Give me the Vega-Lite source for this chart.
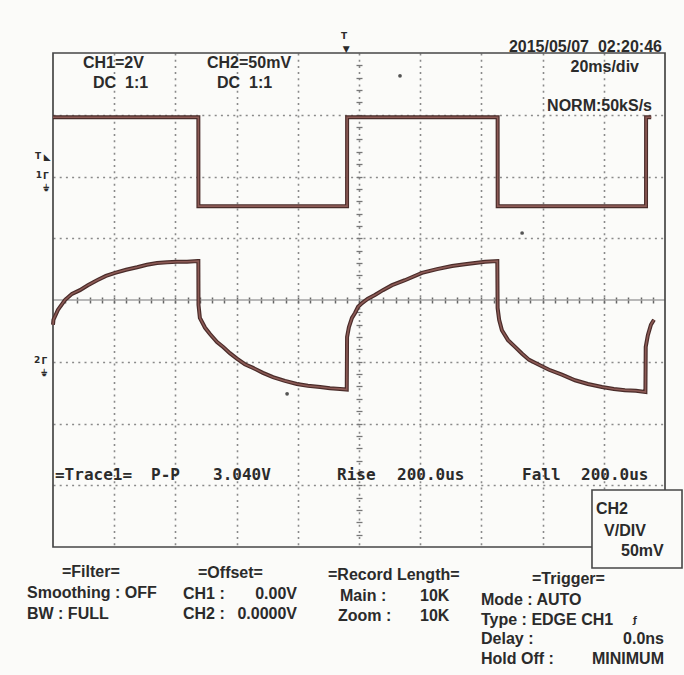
{
  "$schema": "https://vega.github.io/schema/vega-lite/v6.json",
  "width": 612,
  "height": 494,
  "autosize": "none",
  "padding": {"left": 53, "top": 53, "right": 19, "bottom": 128},
  "background": "#fbfbf9",
  "config": {"view": {"stroke": null}},
  "datasets": {
    "ch1": [
      {"t": 0, "v": 2.96}, {"t": 47.5, "v": 2.96}, {"t": 47.52, "v": 1.52}, {"t": 96.1, "v": 1.52},
      {"t": 96.12, "v": 2.96}, {"t": 145.3, "v": 2.96}, {"t": 145.32, "v": 1.52}, {"t": 193.8, "v": 1.52},
      {"t": 193.82, "v": 2.96}, {"t": 195.5, "v": 2.96}
    ],
    "ch2": [
      {"t": 0.0, "v": -0.40}, {"t": 0.15, "v": -0.32}, {"t": 1.6, "v": -0.16}, {"t": 3.9, "v": 0.0},
      {"t": 6.2, "v": 0.10}, {"t": 8.8, "v": 0.16}, {"t": 11.4, "v": 0.24}, {"t": 14.4, "v": 0.32},
      {"t": 17.3, "v": 0.39}, {"t": 20.3, "v": 0.44}, {"t": 23.9, "v": 0.49}, {"t": 27.5, "v": 0.53},
      {"t": 30.7, "v": 0.57}, {"t": 34.0, "v": 0.60}, {"t": 37.3, "v": 0.61}, {"t": 40.5, "v": 0.62},
      {"t": 43.8, "v": 0.62}, {"t": 47.3, "v": 0.63}, {"t": 47.5, "v": 0.63}, {"t": 47.55, "v": -0.08},
      {"t": 48.0, "v": -0.29}, {"t": 49.7, "v": -0.45}, {"t": 51.3, "v": -0.55}, {"t": 53.6, "v": -0.68},
      {"t": 55.6, "v": -0.76}, {"t": 57.8, "v": -0.86}, {"t": 60.1, "v": -0.95}, {"t": 62.7, "v": -1.04},
      {"t": 65.4, "v": -1.10}, {"t": 68.6, "v": -1.18}, {"t": 71.9, "v": -1.25}, {"t": 75.8, "v": -1.31},
      {"t": 79.7, "v": -1.36}, {"t": 83.3, "v": -1.39}, {"t": 87.3, "v": -1.41}, {"t": 90.5, "v": -1.43},
      {"t": 93.8, "v": -1.44}, {"t": 96.0, "v": -1.45}, {"t": 96.1, "v": -0.60}, {"t": 96.7, "v": -0.44},
      {"t": 97.7, "v": -0.29}, {"t": 98.7, "v": -0.21}, {"t": 99.7, "v": -0.11}, {"t": 101.0, "v": -0.05},
      {"t": 102.9, "v": 0.02}, {"t": 105.2, "v": 0.08}, {"t": 107.8, "v": 0.16}, {"t": 110.8, "v": 0.24},
      {"t": 115.0, "v": 0.32}, {"t": 120.6, "v": 0.44}, {"t": 125.5, "v": 0.50}, {"t": 130.4, "v": 0.55},
      {"t": 134.6, "v": 0.58}, {"t": 137.9, "v": 0.60}, {"t": 141.2, "v": 0.62}, {"t": 145.2, "v": 0.63},
      {"t": 145.3, "v": -0.13}, {"t": 145.8, "v": -0.32}, {"t": 146.7, "v": -0.49}, {"t": 148.7, "v": -0.65},
      {"t": 151.0, "v": -0.76}, {"t": 153.3, "v": -0.87}, {"t": 155.6, "v": -0.97}, {"t": 158.8, "v": -1.05},
      {"t": 162.1, "v": -1.13}, {"t": 166.3, "v": -1.21}, {"t": 170.6, "v": -1.30}, {"t": 174.8, "v": -1.36},
      {"t": 179.4, "v": -1.41}, {"t": 183.3, "v": -1.44}, {"t": 186.9, "v": -1.46}, {"t": 190.5, "v": -1.47},
      {"t": 193.6, "v": -1.49}, {"t": 193.7, "v": -0.76}, {"t": 194.4, "v": -0.57}, {"t": 195.4, "v": -0.40},
      {"t": 196.4, "v": -0.32}
    ],
    "specks": [
      {"t": 76.5, "v": -1.52}, {"t": 113.4, "v": 3.63}, {"t": 153.3, "v": 1.085}
    ],
    "topLeft": [
      {"label": "CH1=2V", "t": 9.8, "v": 3.838},
      {"label": "DC\u00a0\u00a01:1", "t": 13.07, "v": 3.514},
      {"label": "CH2=50mV", "t": 50.33, "v": 3.838},
      {"label": "DC\u00a0\u00a01:1", "t": 53.59, "v": 3.514}
    ],
    "topRight": [
      {"label": "2015/05/07\u00a0\u00a002:20:46", "t": 199.0, "v": 4.097},
      {"label": "20ms/div", "t": 191.5, "v": 3.773},
      {"label": "NORM:50kS/s", "t": 195.75, "v": 3.142}
    ],
    "traceLine": [
      {"label": "=Trace1=", "t": 0.65, "v": -2.834},
      {"label": "P-P", "t": 32.03, "v": -2.834},
      {"label": "3.040V", "t": 52.29, "v": -2.834},
      {"label": "Rise", "t": 92.81, "v": -2.834},
      {"label": "200.0us", "t": 112.42, "v": -2.834},
      {"label": "Fall", "t": 153.27, "v": -2.834},
      {"label": "200.0us", "t": 172.55, "v": -2.834}
    ],
    "boxText": [
      {"label": "CH2", "t": 177.45, "v": -3.385},
      {"label": "V/DIV", "t": 180.07, "v": -3.741},
      {"label": "50mV", "t": 185.62, "v": -4.065}
    ],
    "bottomLeft": [
      {"label": "=Filter=", "t": 2.94, "v": -4.405},
      {"label": "Smoothing : OFF", "t": -8.5, "v": -4.745},
      {"label": "BW : FULL", "t": -8.5, "v": -5.085},
      {"label": "=Offset=", "t": 47.39, "v": -4.421},
      {"label": "CH1 :", "t": 42.48, "v": -4.761},
      {"label": "CH2 :", "t": 42.48, "v": -5.085},
      {"label": "=Record Length=", "t": 89.87, "v": -4.453},
      {"label": "Main :", "t": 93.79, "v": -4.794},
      {"label": "10K", "t": 119.93, "v": -4.794},
      {"label": "Zoom :", "t": 93.14, "v": -5.118},
      {"label": "10K", "t": 119.93, "v": -5.118},
      {"label": "=Trigger=", "t": 156.54, "v": -4.518},
      {"label": "Mode : AUTO", "t": 139.87, "v": -4.858},
      {"label": "Type : EDGE CH1", "t": 139.87, "v": -5.182},
      {"label": "Delay :", "t": 139.87, "v": -5.49},
      {"label": "Hold Off :", "t": 139.87, "v": -5.814}
    ],
    "bottomRight": [
      {"label": "0.00V", "t": 79.74, "v": -4.761},
      {"label": "0.0000V", "t": 79.74, "v": -5.085},
      {"label": "0.0ns", "t": 199.67, "v": -5.49},
      {"label": "MINIMUM", "t": 199.67, "v": -5.814}
    ],
    "markers": [
      {"label": "T", "t": -4.9, "v": 2.34},
      {"label": "◣", "t": -1.9, "v": 2.31},
      {"label": "1", "t": -4.6, "v": 2.03},
      {"label": "Γ", "t": -2.3, "v": 2.01},
      {"label": "⏚", "t": -2.3, "v": 1.82},
      {"label": "2", "t": -5.2, "v": -0.97},
      {"label": "Γ", "t": -2.8, "v": -0.99},
      {"label": "⏚", "t": -2.8, "v": -1.18},
      {"label": "T", "t": 95.1, "v": 4.27},
      {"label": "▼", "t": 95.8, "v": 4.07},
      {"label": "ƒ", "t": 190.2, "v": -5.182}
    ]
  },
  "layer": [
    {
      "data": {"values": [{}]},
      "mark": {"type": "rule", "color": "#a2a2a2", "strokeWidth": 1.3},
      "encoding": {
        "x": {"datum": 0, "type": "quantitative", "scale": {"domain": [0, 200], "nice": false, "zero": false},
          "axis": {"orient": "bottom", "offset": -250, "values": [4,8,12,16,20,24,28,32,36,40,44,48,52,56,60,64,68,72,76,80,84,88,92,96,100,104,108,112,116,120,124,128,132,136,140,144,148,152,156,160,164,168,172,176,180,184,188,192,196],
            "ticks": true, "tickSize": 6, "tickWidth": 1.5, "tickColor": "#666666", "labels": false, "domain": false, "grid": false, "title": null}},
        "x2": {"datum": 200},
        "y": {"datum": 0, "type": "quantitative", "scale": {"domain": [-4, 4], "nice": false, "zero": false}, "axis": null}
      }
    },
    {
      "data": {"values": [{}]},
      "mark": {"type": "rule", "strokeOpacity": 0},
      "encoding": {
        "x": {"datum": 100, "type": "quantitative", "scale": {"domain": [0, 200], "nice": false, "zero": false}, "axis": null},
        "y": {"datum": -4, "type": "quantitative", "scale": {"domain": [-4, 4], "nice": false, "zero": false},
          "axis": {"orient": "left", "offset": -309, "values": [-3.8,-3.6,-3.4,-3.2,-3,-2.8,-2.6,-2.4,-2.2,-2,-1.8,-1.6,-1.4,-1.2,-1,-0.8,-0.6,-0.4,-0.2,0.2,0.4,0.6,0.8,1,1.2,1.4,1.6,1.8,2,2.2,2.4,2.6,2.8,3,3.2,3.4,3.6,3.8],
            "ticks": true, "tickSize": 6, "tickWidth": 1.3, "tickColor": "#777777", "labels": false, "domain": false, "grid": false, "title": null}},
        "y2": {"datum": 4}
      }
    },
    {
      "data": {"values": [{}]},
      "mark": {"type": "rect", "filled": false, "stroke": "#474747", "strokeWidth": 1.7},
      "encoding": {
        "x": {"datum": 0, "type": "quantitative", "scale": {"domain": [0, 200], "nice": false, "zero": false}, "axis": null},
        "x2": {"datum": 200},
        "y": {"datum": -4, "type": "quantitative", "scale": {"domain": [-4, 4], "nice": false, "zero": false}, "axis": null},
        "y2": {"datum": 4}
      }
    },
    {
      "data": {"name": "ch1"},
      "mark": {"type": "line", "color": "#4a2c2a", "strokeWidth": 4, "interpolate": "linear"},
      "encoding": {
        "x": {"field": "t", "type": "quantitative", "scale": {"domain": [0, 200], "nice": false, "zero": false},
          "axis": {"orient": "bottom", "values": [20, 40, 60, 80, 100, 120, 140, 160, 180], "grid": true, "gridDash": [2, 4.2], "gridColor": "#8a8a8a", "gridWidth": 1.6, "labels": false, "ticks": false, "domain": false, "title": null}},
        "y": {"field": "v", "type": "quantitative", "scale": {"domain": [-4, 4], "nice": false, "zero": false},
          "axis": {"orient": "left", "values": [-3, -2, -1, 1, 2, 3], "grid": true, "gridDash": [2, 4.2], "gridColor": "#8a8a8a", "gridWidth": 1.6, "labels": false, "ticks": false, "domain": false, "title": null}}
      }
    },
    {
      "data": {"name": "ch2"},
      "mark": {"type": "line", "color": "#4a2c2a", "strokeWidth": 4},
      "encoding": {
        "x": {"field": "t", "type": "quantitative", "scale": {"domain": [0, 200], "nice": false, "zero": false}, "axis": null},
        "y": {"field": "v", "type": "quantitative", "scale": {"domain": [-4, 4], "nice": false, "zero": false}, "axis": null}
      }
    },
    {
      "data": {"name": "ch1"},
      "mark": {"type": "line", "color": "#8c5a55", "strokeWidth": 1.6},
      "encoding": {
        "x": {"field": "t", "type": "quantitative", "scale": {"domain": [0, 200], "nice": false, "zero": false}, "axis": null},
        "y": {"field": "v", "type": "quantitative", "scale": {"domain": [-4, 4], "nice": false, "zero": false}, "axis": null}
      }
    },
    {
      "data": {"name": "ch2"},
      "mark": {"type": "line", "color": "#8c5a55", "strokeWidth": 1.6},
      "encoding": {
        "x": {"field": "t", "type": "quantitative", "scale": {"domain": [0, 200], "nice": false, "zero": false}, "axis": null},
        "y": {"field": "v", "type": "quantitative", "scale": {"domain": [-4, 4], "nice": false, "zero": false}, "axis": null}
      }
    },
    {
      "data": {"name": "specks"},
      "mark": {"type": "point", "filled": true, "color": "#2a2a2a", "size": 14, "opacity": 0.8},
      "encoding": {
        "x": {"field": "t", "type": "quantitative", "scale": {"domain": [0, 200], "nice": false, "zero": false}, "axis": null},
        "y": {"field": "v", "type": "quantitative", "scale": {"domain": [-4, 4], "nice": false, "zero": false}, "axis": null}
      }
    },
    {
      "data": {"name": "topLeft"},
      "mark": {"type": "text", "align": "left", "baseline": "middle", "font": "Liberation Sans", "fontWeight": "bold", "fontSize": 16, "color": "#2b2b2b"},
      "encoding": {
        "x": {"field": "t", "type": "quantitative", "scale": {"domain": [0, 200], "nice": false, "zero": false}, "axis": null},
        "y": {"field": "v", "type": "quantitative", "scale": {"domain": [-4, 4], "nice": false, "zero": false}, "axis": null},
        "text": {"field": "label"}
      }
    },
    {
      "data": {"name": "topRight"},
      "mark": {"type": "text", "align": "right", "baseline": "middle", "font": "Liberation Sans", "fontWeight": "bold", "fontSize": 16, "color": "#2b2b2b"},
      "encoding": {
        "x": {"field": "t", "type": "quantitative", "scale": {"domain": [0, 200], "nice": false, "zero": false}, "axis": null},
        "y": {"field": "v", "type": "quantitative", "scale": {"domain": [-4, 4], "nice": false, "zero": false}, "axis": null},
        "text": {"field": "label"}
      }
    },
    {
      "data": {"name": "traceLine"},
      "mark": {"type": "text", "align": "left", "baseline": "middle", "font": "DejaVu Sans Mono", "fontWeight": "bold", "fontSize": 16, "color": "#2b2b2b"},
      "encoding": {
        "x": {"field": "t", "type": "quantitative", "scale": {"domain": [0, 200], "nice": false, "zero": false}, "axis": null},
        "y": {"field": "v", "type": "quantitative", "scale": {"domain": [-4, 4], "nice": false, "zero": false}, "axis": null},
        "text": {"field": "label"}
      }
    },
    {
      "data": {"values": [{}]},
      "mark": {"type": "rect", "fill": "#fbfbf9", "stroke": "#474747", "strokeWidth": 1.6},
      "encoding": {
        "x": {"datum": 176.14, "type": "quantitative", "scale": {"domain": [0, 200], "nice": false, "zero": false}, "axis": null},
        "x2": {"datum": 205.56},
        "y": {"datum": -3.077, "type": "quantitative", "scale": {"domain": [-4, 4], "nice": false, "zero": false}, "axis": null},
        "y2": {"datum": -4.34}
      }
    },
    {
      "data": {"name": "boxText"},
      "mark": {"type": "text", "align": "left", "baseline": "middle", "font": "Liberation Sans", "fontWeight": "bold", "fontSize": 16, "color": "#2b2b2b"},
      "encoding": {
        "x": {"field": "t", "type": "quantitative", "scale": {"domain": [0, 200], "nice": false, "zero": false}, "axis": null},
        "y": {"field": "v", "type": "quantitative", "scale": {"domain": [-4, 4], "nice": false, "zero": false}, "axis": null},
        "text": {"field": "label"}
      }
    },
    {
      "data": {"name": "bottomLeft"},
      "mark": {"type": "text", "align": "left", "baseline": "middle", "font": "Liberation Sans", "fontWeight": "bold", "fontSize": 16, "color": "#2b2b2b"},
      "encoding": {
        "x": {"field": "t", "type": "quantitative", "scale": {"domain": [0, 200], "nice": false, "zero": false}, "axis": null},
        "y": {"field": "v", "type": "quantitative", "scale": {"domain": [-4, 4], "nice": false, "zero": false}, "axis": null},
        "text": {"field": "label"}
      }
    },
    {
      "data": {"name": "bottomRight"},
      "mark": {"type": "text", "align": "right", "baseline": "middle", "font": "Liberation Sans", "fontWeight": "bold", "fontSize": 16, "color": "#2b2b2b"},
      "encoding": {
        "x": {"field": "t", "type": "quantitative", "scale": {"domain": [0, 200], "nice": false, "zero": false}, "axis": null},
        "y": {"field": "v", "type": "quantitative", "scale": {"domain": [-4, 4], "nice": false, "zero": false}, "axis": null},
        "text": {"field": "label"}
      }
    },
    {
      "data": {"name": "markers"},
      "mark": {"type": "text", "align": "center", "baseline": "middle", "font": "DejaVu Sans", "fontWeight": "bold", "fontSize": 9, "color": "#2b2b2b"},
      "encoding": {
        "x": {"field": "t", "type": "quantitative", "scale": {"domain": [0, 200], "nice": false, "zero": false}, "axis": null},
        "y": {"field": "v", "type": "quantitative", "scale": {"domain": [-4, 4], "nice": false, "zero": false}, "axis": null},
        "text": {"field": "label"}
      }
    }
  ],
  "resolve": {"axis": {"x": "independent", "y": "independent"}}
}
